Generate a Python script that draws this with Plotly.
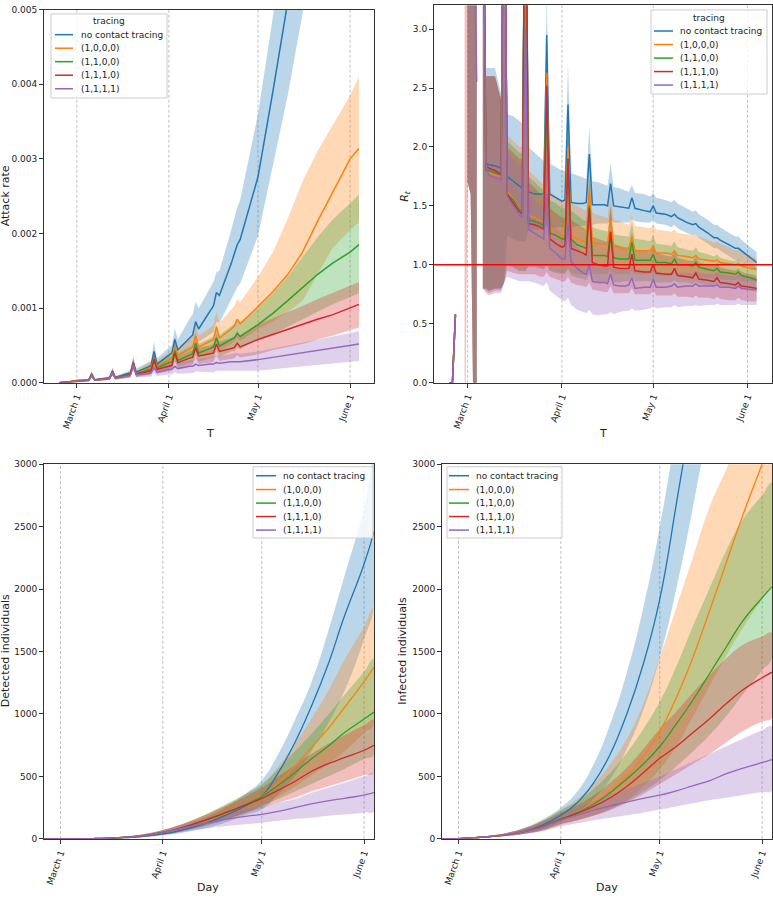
import pandas as pd
import plotly.graph_objects as go

N = None
BASE = pd.Timestamp("2020-03-01")
TICK_DATES = ["2020-03-01", "2020-04-01", "2020-05-01", "2020-06-01"]
TICK_LABELS = ["March 1", "April 1", "May 1", "June 1"]
SERIES = ["no contact tracing", "(1,0,0,0)", "(1,1,0,0)", "(1,1,1,0)", "(1,1,1,1)"]
COLORS = ["#1f77b4", "#ff7f0e", "#2ca02c", "#d62728", "#9467bd"]
FILLS = ["rgba(31,119,180,0.3)", "rgba(255,127,14,0.3)", "rgba(44,160,44,0.3)",
         "rgba(214,39,40,0.3)", "rgba(148,103,189,0.3)"]
LEGEND_TITLE = "tracing"

# ---------------- Attack rate (values in units of 1e-3) ----------------
AR_DAYS = [-6, -3, 0, 3, 4, 5, 6, 10, 11, 12, 13, 17, 18, 19, 20, 24, 25, 26, 27,
           31, 32, 33, 34, 38, 39, 40, 41, 45, 46, 47, 48, 52, 53, 54, 55,
           61, 66, 71, 76, 81, 86, 92, 95]
AR_MEAN_NCT = [0, 0.01, 0.03, 0.035, 0.04, 0.12, 0.04, 0.06, 0.07, 0.15, 0.07, 0.12, 0.13, 0.27, 0.14,
               0.21, 0.23, 0.42, 0.25, 0.37, 0.4, 0.58, 0.44, 0.6, 0.64, 0.82, 0.72, 0.97, 1.03, 1.21, 1.17,
               1.6, 1.72, 1.85, 1.92, 2.76, 3.9, 5.05, 6.3, 8.0, 10.0, 12.8, 14.5]
AR_HI_NCT = [0, 0.015, 0.04, 0.045, 0.05, 0.16, 0.05, 0.08, 0.09, 0.2, 0.09, 0.15, 0.17, 0.36, 0.19,
             0.27, 0.3, 0.55, 0.33, 0.47, 0.5, 0.73, 0.58, 0.86, 0.91, 1.09, 1.0, 1.28, 1.35, 1.48, 1.5,
             2.05, 2.2, 2.35, 2.45, 3.6, 4.9, 6.3, 8.0, 10.0, 12.5, 16.0, 18.0]
AR_LO_NCT = [0, 0.005, 0.02, 0.025, 0.03, 0.08, 0.03, 0.04, 0.05, 0.1, 0.05, 0.09, 0.1, 0.18, 0.11,
             0.16, 0.17, 0.3, 0.19, 0.29, 0.31, 0.42, 0.34, 0.45, 0.47, 0.6, 0.55, 0.65, 0.68, 0.82, 0.8,
             1.12, 1.2, 1.28, 1.33, 1.97, 2.9, 3.85, 4.95, 6.2, 7.6, 9.5, 10.6]
AR_MEAN_1000 = [0, 0.01, 0.03, 0.033, 0.035, 0.11, 0.038, 0.055, 0.06, 0.15, 0.065, 0.1, 0.11, 0.26, 0.12,
                0.19, 0.2, 0.33, 0.22, 0.31, 0.33, 0.49, 0.37, 0.45, 0.48, 0.63, 0.48, 0.56, 0.58, 0.75, 0.6,
                0.72, 0.76, 0.85, 0.79, 1.02, 1.22, 1.45, 1.75, 2.16, 2.55, 3.0, 3.14]
AR_HI_1000 = [0, 0.015, 0.04, 0.043, 0.045, 0.14, 0.048, 0.07, 0.08, 0.19, 0.085, 0.13, 0.14, 0.32, 0.16,
              0.26, 0.28, 0.45, 0.3, 0.4, 0.42, 0.62, 0.48, 0.58, 0.62, 0.8, 0.63, 0.74, 0.77, 0.95, 0.8,
              0.98, 1.03, 1.12, 1.08, 1.42, 1.75, 2.2, 2.7, 3.1, 3.45, 3.85, 4.1]
AR_LO_1000 = [0, 0.005, 0.02, 0.022, 0.025, 0.07, 0.027, 0.038, 0.042, 0.1, 0.045, 0.07, 0.075, 0.18, 0.08,
              0.13, 0.14, 0.22, 0.15, 0.22, 0.23, 0.33, 0.26, 0.32, 0.33, 0.43, 0.34, 0.4, 0.41, 0.52, 0.43,
              0.52, 0.55, 0.6, 0.56, 0.72, 0.82, 0.95, 1.1, 1.45, 1.8, 2.05, 2.15]
AR_MEAN_1100 = [0, 0.01, 0.028, 0.032, 0.034, 0.11, 0.037, 0.053, 0.058, 0.15, 0.063, 0.1, 0.11, 0.26, 0.12,
                0.17, 0.18, 0.3, 0.2, 0.27, 0.28, 0.43, 0.3, 0.37, 0.39, 0.53, 0.4, 0.46, 0.48, 0.6, 0.49,
                0.58, 0.6, 0.66, 0.62, 0.78, 0.93, 1.1, 1.28, 1.45, 1.6, 1.75, 1.85]
AR_HI_1100 = [0, 0.015, 0.038, 0.042, 0.044, 0.14, 0.047, 0.068, 0.075, 0.19, 0.08, 0.13, 0.14, 0.32, 0.155,
              0.23, 0.25, 0.4, 0.27, 0.35, 0.37, 0.55, 0.4, 0.48, 0.5, 0.67, 0.52, 0.6, 0.62, 0.77, 0.64,
              0.76, 0.79, 0.86, 0.81, 1.0, 1.2, 1.42, 1.68, 1.95, 2.18, 2.4, 2.52]
AR_LO_1100 = [0, 0.005, 0.018, 0.022, 0.024, 0.07, 0.026, 0.036, 0.04, 0.1, 0.043, 0.07, 0.075, 0.18, 0.08,
              0.12, 0.13, 0.2, 0.14, 0.19, 0.2, 0.3, 0.21, 0.26, 0.27, 0.37, 0.28, 0.33, 0.34, 0.43, 0.35,
              0.42, 0.43, 0.47, 0.45, 0.58, 0.65, 0.75, 0.85, 0.95, 1.05, 1.15, 1.2]
AR_MEAN_1110 = [0, 0.01, 0.028, 0.031, 0.033, 0.11, 0.036, 0.052, 0.057, 0.15, 0.062, 0.1, 0.11, 0.26, 0.115,
                0.15, 0.16, 0.32, 0.18, 0.22, 0.23, 0.4, 0.27, 0.33, 0.34, 0.47, 0.36, 0.39, 0.4, 0.52, 0.42,
                0.46, 0.47, 0.53, 0.48, 0.58, 0.65, 0.72, 0.79, 0.85, 0.91, 1.0, 1.05]
AR_HI_1110 = [0, 0.015, 0.038, 0.041, 0.043, 0.14, 0.046, 0.067, 0.074, 0.19, 0.079, 0.13, 0.14, 0.32, 0.15,
              0.21, 0.22, 0.42, 0.24, 0.29, 0.3, 0.52, 0.35, 0.43, 0.44, 0.6, 0.47, 0.5, 0.52, 0.66, 0.55,
              0.6, 0.62, 0.7, 0.63, 0.78, 0.86, 0.94, 1.03, 1.12, 1.2, 1.3, 1.35]
AR_LO_1110 = [0, 0.005, 0.018, 0.021, 0.023, 0.07, 0.025, 0.035, 0.039, 0.1, 0.042, 0.07, 0.075, 0.18, 0.078,
              0.1, 0.11, 0.22, 0.12, 0.15, 0.16, 0.28, 0.19, 0.23, 0.24, 0.33, 0.25, 0.27, 0.28, 0.37, 0.29,
              0.32, 0.33, 0.37, 0.34, 0.38, 0.44, 0.48, 0.52, 0.58, 0.63, 0.7, 0.74]
AR_MEAN_1111 = [0, 0.01, 0.025, 0.03, 0.03, 0.1, 0.035, 0.05, 0.055, 0.14, 0.06, 0.09, 0.1, 0.24, 0.11,
                0.12, 0.13, 0.2, 0.14, 0.18, 0.18, 0.22, 0.19, 0.22, 0.22, 0.25, 0.23, 0.25, 0.25, 0.27, 0.26,
                0.28, 0.28, 0.29, 0.28, 0.31, 0.34, 0.37, 0.41, 0.44, 0.47, 0.5, 0.52]
AR_HI_1111 = [0, 0.015, 0.035, 0.04, 0.04, 0.13, 0.045, 0.065, 0.07, 0.18, 0.08, 0.12, 0.13, 0.3, 0.15,
              0.17, 0.18, 0.28, 0.19, 0.25, 0.25, 0.3, 0.27, 0.3, 0.3, 0.34, 0.32, 0.34, 0.35, 0.37, 0.36,
              0.38, 0.39, 0.4, 0.39, 0.42, 0.46, 0.5, 0.54, 0.58, 0.62, 0.66, 0.69]
AR_LO_1111 = [0, 0.005, 0.015, 0.02, 0.02, 0.07, 0.025, 0.035, 0.04, 0.1, 0.04, 0.06, 0.07, 0.17, 0.07,
              0.08, 0.08, 0.13, 0.09, 0.11, 0.11, 0.14, 0.12, 0.13, 0.13, 0.15, 0.14, 0.14, 0.14, 0.16, 0.15,
              0.15, 0.15, 0.16, 0.16, 0.16, 0.18, 0.2, 0.22, 0.24, 0.26, 0.28, 0.29]
AR_UNIT = 1e-3

# ---------------- Effective reproduction number R_t ----------------
RT_DAYS = [-6, -5, -4, -1, 0, 1, 2, 3, 4, 5, 6, 7, 9, 11, 12,
           13, 15, 17, 18, 19, 20, 22, 24, 25, 26, 27, 29, 31, 32, 33, 34, 36, 38, 39, 40,
           41, 43, 45, 46, 47, 48, 50, 52, 53, 54, 55, 58, 60, 61, 62, 65, 67, 68, 69, 72,
           74, 75, 76, 79, 81, 82, 83, 86, 88, 89, 90, 93, 95]
RT_MEAN_NCT = [0, 0, 0.58, N, 5, 5, 5, 5, N, 5, 1.86, 1.85, 1.84, 1.82, 5,
               1.75, 1.71, 1.67, 1.65, 5, 1.62, 1.6, 1.6, 1.6, 2.95, 1.6, 1.57, 1.54, 1.55, 2.36,
               1.53, 1.52, 1.52, 1.53, 1.94, 1.51, 1.51, 1.51, 1.5, 1.69, 1.5, 1.49, 1.48, 1.48, 1.57,
               1.48, 1.46, 1.45, 1.5, 1.44, 1.43, 1.41, 1.43, 1.4, 1.36, 1.34, 1.35, 1.32, 1.27, 1.23,
               1.23, 1.21, 1.17, 1.14, 1.14, 1.12, 1.06, 1.02]
RT_HI_NCT = [N, N, N, N, 6, 6, 6, 6, N, 6, 2.67, 2.67, 2.67, 2.45, 6,
             2.28, 2.26, 2.22, 2.2, 6, 2.0, 1.95, 1.9, 1.88, 3.3, 1.86, 1.83, 1.8, 1.8, 2.7,
             1.78, 1.76, 1.74, 1.73, 2.17, 1.71, 1.7, 1.68, 1.67, 1.86, 1.66, 1.65, 1.63, 1.62, 1.68,
             1.61, 1.6, 1.58, 1.61, 1.57, 1.55, 1.53, 1.55, 1.52, 1.48, 1.45, 1.46, 1.43, 1.38, 1.34,
             1.34, 1.32, 1.27, 1.24, 1.24, 1.21, 1.15, 1.11]
RT_LO_NCT = [N, N, N, N, 1.7, 1.6, -0.5, -0.5, N, 0.8, 0.8, 0.78, 0.8, 0.8, 0.85,
             1.25, 1.22, 1.2, 1.2, 1.2, 1.3, 1.3, 1.3, 1.3, 1.33, 1.32, 1.32, 1.32, 1.32, 1.35,
             1.32, 1.33, 1.33, 1.34, 1.38, 1.34, 1.35, 1.35, 1.35, 1.38, 1.36, 1.36, 1.36, 1.36, 1.39,
             1.37, 1.36, 1.36, 1.38, 1.35, 1.34, 1.32, 1.34, 1.31, 1.27, 1.25, 1.26, 1.23, 1.18, 1.14,
             1.14, 1.12, 1.07, 1.04, 1.04, 1.02, 0.98, 0.95]
RT_MEAN_1000 = [0, 0, 0.58, N, 5, 5, 5, 5, N, 5, 1.82, 1.78, 1.76, 1.75, 5,
                1.62, 1.56, 1.48, 1.46, 5, 1.42, 1.4, 1.37, 1.36, 2.63, 1.3, 1.27, 1.24, 1.25, 2.0,
                1.25, 1.22, 1.2, 1.2, 1.63, 1.19, 1.18, 1.18, 1.17, 1.38, 1.16, 1.15, 1.13, 1.13, 1.24,
                1.12, 1.12, 1.12, 1.16, 1.1, 1.1, 1.09, 1.12, 1.08, 1.07, 1.06, 1.08, 1.05, 1.04, 1.03,
                1.04, 1.02, 1.01, 1.0, 1.01, 0.99, 0.97, 0.96]
RT_HI_1000 = [N, N, N, N, 6, 6, 6, 6, N, 6, 2.6, 2.6, 2.6, 2.4, 6,
              2.1, 2.05, 2.0, 2.0, 6, 1.8, 1.75, 1.7, 1.68, 3.0, 1.62, 1.58, 1.55, 1.55, 2.3,
              1.52, 1.5, 1.47, 1.46, 1.85, 1.44, 1.42, 1.41, 1.4, 1.6, 1.38, 1.37, 1.35, 1.34, 1.42,
              1.33, 1.32, 1.31, 1.34, 1.3, 1.29, 1.28, 1.3, 1.27, 1.26, 1.25, 1.26, 1.24, 1.21, 1.19,
              1.2, 1.18, 1.15, 1.12, 1.13, 1.11, 1.08, 1.05]
RT_LO_1000 = [N, N, N, N, 1.7, 1.6, -0.5, -0.5, N, 0.8, 0.8, 0.78, 0.8, 0.8, 0.85,
              1.0, 0.98, 0.95, 0.95, 0.95, 1.0, 1.0, 0.98, 0.97, 1.02, 0.95, 0.94, 0.93, 0.93, 0.98,
              0.93, 0.92, 0.92, 0.92, 0.97, 0.92, 0.92, 0.92, 0.92, 0.96, 0.92, 0.92, 0.92, 0.92, 0.95,
              0.92, 0.92, 0.92, 0.94, 0.91, 0.91, 0.91, 0.93, 0.9, 0.9, 0.9, 0.91, 0.89, 0.89, 0.88,
              0.89, 0.88, 0.87, 0.87, 0.88, 0.86, 0.86, 0.85]
RT_MEAN_1100 = [0, 0, 0.58, N, 5, 5, 5, 5, N, 5, 1.8, 1.8, 1.78, 1.76, 5,
                1.6, 1.55, 1.47, 1.45, 5, 1.38, 1.37, 1.35, 1.33, 2.5, 1.27, 1.25, 1.22, 1.22, 1.9,
                1.22, 1.17, 1.15, 1.14, 1.5, 1.08, 1.08, 1.08, 1.07, 1.28, 1.06, 1.05, 1.05, 1.05, 1.19,
                1.04, 1.04, 1.04, 1.09, 1.02, 1.02, 1.01, 1.05, 1.0, 1.0, 0.99, 1.02, 0.98, 0.96, 0.95,
                0.97, 0.94, 0.93, 0.92, 0.94, 0.91, 0.89, 0.87]
RT_HI_1100 = [N, N, N, N, 6, 6, 6, 6, N, 6, 2.6, 2.6, 2.6, 2.4, 6,
              2.05, 2.0, 1.95, 1.95, 6, 1.75, 1.7, 1.65, 1.63, 2.9, 1.55, 1.52, 1.48, 1.48, 2.2,
              1.46, 1.42, 1.38, 1.37, 1.75, 1.32, 1.3, 1.29, 1.28, 1.5, 1.26, 1.25, 1.24, 1.24, 1.36,
              1.22, 1.21, 1.2, 1.25, 1.18, 1.17, 1.16, 1.2, 1.15, 1.13, 1.12, 1.15, 1.11, 1.09, 1.07,
              1.09, 1.06, 1.04, 1.03, 1.05, 1.02, 1.0, 0.98]
RT_LO_1100 = [N, N, N, N, 1.7, 1.6, -0.5, -0.5, N, 0.8, 0.8, 0.78, 0.8, 0.8, 0.85,
              1.0, 0.98, 0.95, 0.95, 0.95, 0.98, 0.98, 0.97, 0.96, 1.0, 0.95, 0.93, 0.92, 0.92, 0.96,
              0.91, 0.89, 0.88, 0.87, 0.92, 0.85, 0.85, 0.85, 0.85, 0.9, 0.85, 0.85, 0.86, 0.86, 0.9,
              0.86, 0.86, 0.86, 0.88, 0.85, 0.85, 0.85, 0.87, 0.85, 0.85, 0.84, 0.86, 0.84, 0.83, 0.82,
              0.84, 0.82, 0.81, 0.8, 0.82, 0.8, 0.78, 0.77]
RT_MEAN_1110 = [0, 0, 0.58, N, 5, 5, 5, 5, N, 5, 1.84, 1.82, 1.8, 1.77, 5,
                1.6, 1.53, 1.45, 1.43, 5, 1.35, 1.34, 1.32, 1.3, 2.52, 1.22, 1.18, 1.15, 1.16, 1.9,
                1.14, 1.12, 1.1, 1.08, 1.48, 1.02, 1.0, 0.99, 0.99, 1.28, 0.98, 0.97, 0.97, 0.97, 1.09,
                0.95, 0.94, 0.94, 1.0, 0.93, 0.92, 0.92, 0.97, 0.91, 0.9, 0.89, 0.93, 0.88, 0.87, 0.86,
                0.89, 0.85, 0.84, 0.83, 0.85, 0.82, 0.81, 0.8]
RT_HI_1110 = [N, N, N, 6, 6, 6, 6, 6, N, 6, 2.6, 2.6, 2.6, 2.4, 6,
              2.0, 1.95, 1.9, 1.9, 6, 1.7, 1.65, 1.6, 1.58, 2.9, 1.48, 1.44, 1.4, 1.4, 2.2,
              1.38, 1.35, 1.32, 1.3, 1.72, 1.24, 1.22, 1.2, 1.2, 1.5, 1.18, 1.16, 1.15, 1.15, 1.28,
              1.13, 1.12, 1.11, 1.17, 1.1, 1.08, 1.07, 1.12, 1.06, 1.04, 1.03, 1.07, 1.02, 1.0, 0.99,
              1.02, 0.98, 0.96, 0.95, 0.97, 0.94, 0.92, 0.91]
RT_LO_1110 = [N, N, N, -1, 1.7, 1.6, -0.5, -0.5, N, 0.8, 0.78, 0.76, 0.78, 0.78, 0.85,
              0.95, 0.93, 0.92, 0.92, 0.92, 0.92, 0.92, 0.9, 0.9, 0.94, 0.9, 0.88, 0.86, 0.86, 0.9,
              0.85, 0.83, 0.82, 0.81, 0.85, 0.79, 0.78, 0.77, 0.77, 0.82, 0.76, 0.76, 0.76, 0.76, 0.8,
              0.75, 0.75, 0.75, 0.78, 0.74, 0.74, 0.74, 0.76, 0.73, 0.73, 0.72, 0.74, 0.72, 0.72, 0.71,
              0.73, 0.71, 0.7, 0.7, 0.72, 0.7, 0.69, 0.69]
RT_MEAN_1111 = [0, 0, 0.58, N, 5, 5, 4, 2.55, N, 5, 1.85, 1.76, 1.74, 1.72, 5,
                1.58, 1.5, 1.42, 1.4, 3.0, 1.3, 1.27, 1.24, 1.22, 1.6, 1.14, 1.1, 1.05, 1.05, 1.35,
                1.03, 0.97, 0.93, 0.92, 1.0, 0.86, 0.85, 0.85, 0.84, 0.92, 0.83, 0.82, 0.82, 0.83, 0.89,
                0.8, 0.81, 0.81, 0.88, 0.81, 0.81, 0.82, 0.84, 0.81, 0.82, 0.82, 0.84, 0.82, 0.82, 0.82,
                0.83, 0.81, 0.81, 0.8, 0.82, 0.8, 0.79, 0.79]
RT_HI_1111 = [N, N, N, N, 6, 6, 6, 6, N, 6, 2.6, 2.6, 2.6, 2.4, 6,
              1.95, 1.9, 1.85, 1.85, 6, 1.6, 1.55, 1.5, 1.48, 2.2, 1.38, 1.32, 1.26, 1.25, 1.6,
              1.22, 1.15, 1.1, 1.08, 1.2, 1.02, 1.0, 0.99, 0.98, 1.08, 0.97, 0.96, 0.96, 0.96, 1.02,
              0.94, 0.94, 0.94, 1.0, 0.93, 0.93, 0.93, 0.96, 0.93, 0.93, 0.93, 0.95, 0.93, 0.92, 0.92,
              0.94, 0.92, 0.91, 0.9, 0.92, 0.9, 0.9, 0.89]
RT_LO_1111 = [N, N, N, N, 1.7, 1.6, -0.5, -0.5, N, 0.8, 0.76, 0.74, 0.76, 0.76, 0.85,
              0.9, 0.88, 0.86, 0.86, 0.86, 0.86, 0.85, 0.83, 0.82, 0.85, 0.78, 0.74, 0.7, 0.69, 0.72,
              0.66, 0.62, 0.6, 0.59, 0.62, 0.58, 0.57, 0.58, 0.58, 0.6, 0.58, 0.6, 0.61, 0.61, 0.63,
              0.61, 0.62, 0.63, 0.65, 0.63, 0.64, 0.64, 0.66, 0.64, 0.65, 0.65, 0.66, 0.65, 0.66, 0.66,
              0.67, 0.66, 0.66, 0.66, 0.67, 0.66, 0.66, 0.66]
RT_THRESHOLD = 1.0

# ---------------- Detected / infected individuals ----------------
CUM_DAYS = [-5, 0, 5, 10, 15, 20, 25, 31, 36, 41, 46, 51, 56, 61, 66, 71, 76, 81, 86, 92, 95]
DET_MEAN_NCT = [0, 0, 1, 2, 5, 10, 20, 40, 65, 100, 145, 200, 265, 345, 530, 770, 1060, 1390, 1780, 2200, 2460]
DET_LO_NCT = [0, 0, 0, 1, 3, 6, 13, 27, 45, 70, 100, 140, 190, 235, 360, 500, 700, 920, 1180, 1600, 1870]
DET_HI_NCT = [0, 1, 2, 4, 8, 15, 28, 55, 90, 135, 195, 270, 360, 470, 680, 950, 1250, 1650, 2100, 2650, 3050]
DET_MEAN_1000 = [0, 0, 1, 3, 7, 14, 26, 50, 80, 120, 165, 215, 275, 345, 450, 580, 730, 880, 1050, 1260, 1375]
DET_LO_1000 = [0, 0, 0, 1, 4, 8, 16, 33, 55, 85, 120, 160, 210, 260, 340, 420, 510, 600, 700, 850, 920]
DET_HI_1000 = [0, 1, 2, 5, 11, 21, 38, 70, 110, 160, 220, 285, 355, 430, 580, 760, 960, 1180, 1430, 1700, 1850]
DET_MEAN_1100 = [0, 0, 1, 3, 7, 14, 26, 52, 82, 122, 168, 218, 275, 340, 430, 530, 640, 740, 850, 960, 1015]
DET_LO_1100 = [0, 0, 0, 1, 4, 8, 16, 35, 57, 88, 122, 162, 210, 265, 320, 380, 440, 500, 560, 640, 675]
DET_HI_1100 = [0, 1, 2, 5, 11, 21, 38, 72, 112, 162, 222, 290, 360, 440, 560, 700, 840, 990, 1150, 1340, 1440]
DET_MEAN_1110 = [0, 0, 1, 3, 7, 14, 26, 53, 85, 125, 170, 220, 270, 325, 390, 460, 540, 600, 650, 710, 750]
DET_LO_1110 = [0, 0, 0, 1, 4, 8, 17, 36, 58, 90, 125, 165, 205, 250, 290, 330, 380, 420, 460, 510, 530]
DET_HI_1110 = [0, 1, 2, 5, 11, 21, 37, 72, 112, 160, 215, 275, 340, 410, 500, 590, 680, 760, 830, 910, 950]
DET_MEAN_1111 = [0, 0, 1, 3, 7, 14, 26, 52, 80, 110, 135, 160, 180, 197, 220, 250, 280, 305, 325, 350, 370]
DET_LO_1111 = [0, 0, 0, 1, 4, 8, 16, 34, 52, 72, 90, 105, 118, 130, 145, 160, 170, 185, 195, 210, 220]
DET_HI_1111 = [0, 1, 2, 5, 11, 21, 37, 70, 108, 145, 180, 210, 235, 255, 290, 320, 370, 410, 450, 500, 525]

INF_MEAN_NCT = [0, 3, 10, 20, 35, 60, 105, 190, 290, 450, 680, 1000, 1400, 1920, 2680, 3500, 4500, 5800, 7400, 9800, 11200]
INF_HI_NCT = [0, 5, 14, 28, 50, 90, 150, 250, 380, 600, 920, 1330, 1850, 2500, 3300, 4300, 5500, 7000, 9000, 12000, 13500]
INF_LO_NCT = [0, 2, 7, 14, 25, 42, 75, 140, 210, 320, 480, 720, 1030, 1450, 2000, 2650, 3400, 4400, 5600, 7500, 8600]
INF_MEAN_1000 = [0, 3, 10, 20, 35, 60, 95, 160, 215, 290, 380, 500, 660, 860, 1130, 1450, 1820, 2200, 2580, 3000, 3220]
INF_HI_1000 = [0, 5, 14, 28, 50, 85, 140, 230, 320, 440, 600, 800, 1080, 1450, 1850, 2250, 2650, 2950, 3250, 3700, 4000]
INF_LO_1000 = [0, 2, 7, 14, 25, 42, 65, 110, 150, 190, 240, 310, 420, 560, 740, 980, 1220, 1460, 1680, 1920, 2050]
INF_MEAN_1100 = [0, 3, 10, 20, 35, 60, 95, 160, 210, 280, 370, 480, 600, 740, 920, 1110, 1320, 1530, 1740, 1930, 2020]
INF_HI_1100 = [0, 5, 14, 28, 50, 85, 140, 230, 300, 400, 530, 690, 880, 1100, 1380, 1700, 2000, 2300, 2550, 2750, 2850]
INF_LO_1100 = [0, 2, 7, 14, 25, 42, 65, 120, 150, 190, 240, 300, 380, 470, 580, 700, 830, 980, 1150, 1350, 1450]
INF_MEAN_1110 = [0, 3, 10, 20, 35, 60, 95, 155, 205, 260, 330, 420, 530, 645, 740, 850, 960, 1080, 1190, 1290, 1335]
INF_HI_1110 = [0, 5, 14, 28, 50, 85, 135, 210, 270, 350, 450, 570, 720, 880, 1020, 1170, 1310, 1440, 1550, 1620, 1650]
INF_LO_1110 = [0, 2, 7, 14, 25, 42, 65, 120, 150, 185, 230, 290, 360, 440, 520, 600, 680, 770, 860, 940, 970]
INF_MEAN_1111 = [0, 3, 10, 20, 35, 60, 90, 150, 190, 230, 265, 295, 325, 350, 385, 425, 465, 520, 565, 610, 635]
INF_HI_1111 = [0, 5, 14, 28, 50, 82, 125, 200, 250, 300, 350, 400, 450, 500, 560, 620, 680, 740, 800, 870, 900]
INF_LO_1111 = [0, 2, 7, 14, 25, 40, 60, 100, 125, 150, 170, 190, 210, 235, 260, 285, 310, 330, 350, 375, 385]

# ---------------- assemble panels ----------------
def to_dates(days):
    return [BASE + pd.Timedelta(days=d) for d in days]

def scale(vals, k):
    return [None if v is None else v * k for v in vals]

PANELS = [
    dict(days=AR_DAYS, unit=AR_UNIT, shape="linear", width=1.5,
         mean=[AR_MEAN_NCT, AR_MEAN_1000, AR_MEAN_1100, AR_MEAN_1110, AR_MEAN_1111],
         lo=[AR_LO_NCT, AR_LO_1000, AR_LO_1100, AR_LO_1110, AR_LO_1111],
         hi=[AR_HI_NCT, AR_HI_1000, AR_HI_1100, AR_HI_1110, AR_HI_1111]),
    dict(days=RT_DAYS, unit=1, shape="linear", width=1.5,
         mean=[RT_MEAN_NCT, RT_MEAN_1000, RT_MEAN_1100, RT_MEAN_1110, RT_MEAN_1111],
         lo=[RT_LO_NCT, RT_LO_1000, RT_LO_1100, RT_LO_1110, RT_LO_1111],
         hi=[RT_HI_NCT, RT_HI_1000, RT_HI_1100, RT_HI_1110, RT_HI_1111]),
    dict(days=CUM_DAYS, unit=1, shape="spline", width=1.3,
         mean=[DET_MEAN_NCT, DET_MEAN_1000, DET_MEAN_1100, DET_MEAN_1110, DET_MEAN_1111],
         lo=[DET_LO_NCT, DET_LO_1000, DET_LO_1100, DET_LO_1110, DET_LO_1111],
         hi=[DET_HI_NCT, DET_HI_1000, DET_HI_1100, DET_HI_1110, DET_HI_1111]),
    dict(days=CUM_DAYS, unit=1, shape="spline", width=1.3,
         mean=[INF_MEAN_NCT, INF_MEAN_1000, INF_MEAN_1100, INF_MEAN_1110, INF_MEAN_1111],
         lo=[INF_LO_NCT, INF_LO_1000, INF_LO_1100, INF_LO_1110, INF_LO_1111],
         hi=[INF_HI_NCT, INF_HI_1000, INF_HI_1100, INF_HI_1110, INF_HI_1111]),
]

for p in PANELS:
    for arr in p["mean"] + p["lo"] + p["hi"]:
        if len(arr) != len(p["days"]):
            raise ValueError("length mismatch %d vs %d" % (len(arr), len(p["days"])))

fig = go.Figure()

for pi, p in enumerate(PANELS):
    xa = "x" if pi == 0 else "x%d" % (pi + 1)
    ya = "y" if pi == 0 else "y%d" % (pi + 1)
    dates = to_dates(p["days"])
    smooth = 1.3 if p["shape"] == "spline" else None
    for si in range(5):
        lo = scale(p["lo"][si], p["unit"])
        hi = scale(p["hi"][si], p["unit"])
        segs, cur = [], []
        for d, l, h in zip(dates, lo, hi):
            if l is None or h is None:
                if len(cur) > 1:
                    segs.append(cur)
                cur = []
            else:
                cur.append((d, l, h))
        if len(cur) > 1:
            segs.append(cur)
        for seg in segs:
            xs = [s[0] for s in seg] + [s[0] for s in reversed(seg)]
            ys = [s[2] for s in seg] + [s[1] for s in reversed(seg)]
            fig.add_trace(go.Scatter(x=xs, y=ys, xaxis=xa, yaxis=ya, mode="lines",
                                     line=dict(width=0, shape=p["shape"], smoothing=smooth),
                                     fill="toself", fillcolor=FILLS[si],
                                     hoverinfo="skip", showlegend=False))
    for si in range(5):
        fig.add_trace(go.Scatter(x=dates, y=scale(p["mean"][si], p["unit"]), xaxis=xa, yaxis=ya,
                                 mode="lines", name=SERIES[si],
                                 line=dict(color=COLORS[si], width=p["width"], shape=p["shape"],
                                           smoothing=smooth),
                                 showlegend=False))

W, H = 773, 899
def xd(a, b):
    return [a / W, b / W]
def yd(top, bottom):
    return [1 - bottom / H, 1 - top / H]

tick_dates = [pd.Timestamp(t) for t in TICK_DATES]
top_range = [BASE + pd.Timedelta(days=-11.05), BASE + pd.Timedelta(days=100.05)]
bot_range = [BASE + pd.Timedelta(days=-5), BASE + pd.Timedelta(days=95)]

FONT = "DejaVu Sans"
def xaxis(dom, rng, anchor):
    return dict(domain=dom, range=rng, anchor=anchor, type="date",
                tickvals=tick_dates, ticktext=TICK_LABELS, tickangle=-70,
                showline=True, mirror=True, linecolor="#333", linewidth=1,
                ticks="outside", ticklen=4, tickcolor="#333",
                tickfont=dict(size=9, color="#222", family=FONT),
                showgrid=False, zeroline=False)
def yaxis(dom, rng, anchor, dtick, fmt):
    return dict(domain=dom, range=rng, anchor=anchor, dtick=dtick, tickformat=fmt,
                showline=True, mirror=True, linecolor="#333", linewidth=1,
                ticks="outside", ticklen=4, tickcolor="#333",
                tickfont=dict(size=9, color="#222", family=FONT),
                showgrid=False, zeroline=False)

fig.update_layout(
    width=W, height=H, margin=dict(l=0, r=0, t=0, b=0),
    paper_bgcolor="white", plot_bgcolor="white", showlegend=False,
    font=dict(family=FONT, size=9, color="#222"),
    xaxis=xaxis(xd(44, 374), top_range, "y"),
    yaxis=yaxis(yd(4.7, 382), [0, 0.005], "x", 0.001, ".3f"),
    xaxis2=xaxis(xd(434, 772), top_range, "y2"),
    yaxis2=yaxis(yd(0.5, 382), [0, 3.2], "x2", 0.5, ".1f"),
    xaxis3=xaxis(xd(44, 374), bot_range, "y3"),
    yaxis3=yaxis(yd(464.3, 843.3), [0, 3000], "x3", 500, "d"),
    xaxis4=xaxis(xd(442, 772), bot_range, "y4"),
    yaxis4=yaxis(yd(464.3, 843.3), [0, 3000], "x4", 500, "d"),
)

# month-start guide lines
for ax in ["x", "x2", "x3", "x4"]:
    yref = ("y" if ax == "x" else "y" + ax[1:]) + " domain"
    for t in tick_dates:
        fig.add_shape(type="line", xref=ax, yref=yref, x0=t, x1=t, y0=0, y1=1,
                      line=dict(color="#b0b0b0", width=0.8, dash="3px,2px"), layer="below")
# R_t = 1 reference line
fig.add_shape(type="line", xref="x2 domain", yref="y2", x0=0, x1=1, y0=RT_THRESHOLD, y1=RT_THRESHOLD,
              line=dict(color="red", width=1.5), layer="above")

def px_x(v):
    return v / W
def px_y(v):
    return 1 - v / H

def legend_box(box, entry_ys, line_x, text_x, title_y=None):
    x0, x1, y0, y1 = box
    fig.add_shape(type="rect", xref="paper", yref="paper", x0=px_x(x0), x1=px_x(x1),
                  y0=px_y(y1), y1=px_y(y0), line=dict(color="#cccccc", width=1),
                  fillcolor="rgba(255,255,255,0.8)", layer="above")
    if title_y is not None:
        fig.add_annotation(text=LEGEND_TITLE, x=px_x((x0 + x1) / 2), y=px_y(title_y),
                           xref="paper", yref="paper", showarrow=False,
                           xanchor="center", yanchor="middle",
                           font=dict(size=9, family=FONT, color="#222"))
    for si, ey in enumerate(entry_ys):
        fig.add_shape(type="line", xref="paper", yref="paper", x0=px_x(line_x[0]), x1=px_x(line_x[1]),
                      y0=px_y(ey), y1=px_y(ey), line=dict(color=COLORS[si], width=1.5), layer="above")
        fig.add_annotation(text=SERIES[si], x=px_x(text_x), y=px_y(ey), xref="paper", yref="paper",
                           showarrow=False, xanchor="left", yanchor="middle",
                           font=dict(size=9, family=FONT, color="#222"))

legend_box((51, 167, 9, 94), [30, 43.7, 57.3, 71, 84.7], (55, 73), 79, title_y=16.5)
legend_box((651, 767, 5, 90), [26.3, 40, 53.7, 67.3, 81], (654, 673), 678, title_y=13.3)
legend_box((253, 373, 467, 539), [476, 490, 503.7, 517.3, 531], (256, 276), 281)
legend_box((447, 562, 467, 539), [476, 490, 503.7, 517.3, 531], (449, 469), 474)

def title(text, x, y, angle=0):
    fig.add_annotation(text=text, x=x / W, y=1 - y / H, xref="paper", yref="paper",
                       showarrow=False, textangle=angle, xanchor="center", yanchor="middle",
                       font=dict(size=11, family=FONT, color="#222"))
title("T", 210, 433)
title("T", 603, 433)
title("Day", 208, 892)
title("Day", 607, 892)
title("Attack rate", 5.5, 193, -90)
title("<i>R</i><sub><i>t</i></sub>", 405, 193, -90)
title("Detected individuals", 5.5, 653, -90)
title("Infected individuals", 403, 653, -90)

fig.write_html("out.html", config={"displayModeBar": False},
               post_script="document.body.style.margin='0';document.body.style.overflow='hidden';")
